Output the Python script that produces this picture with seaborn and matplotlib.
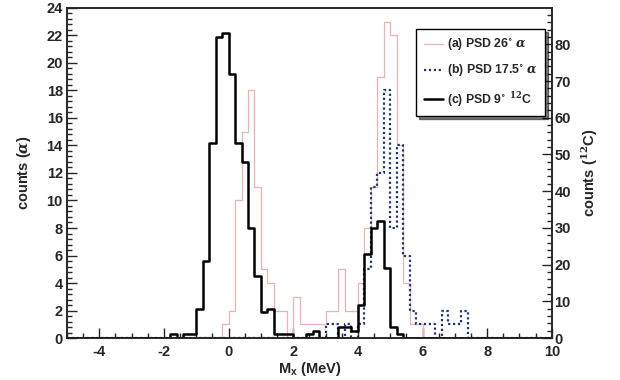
import numpy as np
import pandas as pd
import matplotlib
matplotlib.use("Agg")
import matplotlib.pyplot as plt
from matplotlib.lines import Line2D
from matplotlib.ticker import MultipleLocator
import seaborn as sns

# histogram binning (MeV)
bin_width = 0.2
x_min, x_max = -5.0, 10.0

# (a) PSD 26 deg alpha - counts per bin, first bin starts at a_start
a_start = -0.2
a_counts = [1, 2, 10, 15, 18, 11, 5, 4, 2, 2, 0, 3, 1, 1, 1, 1, 2, 2, 5, 2,
            2, 4, 8, 11, 19, 23, 22, 14, 4, 1, 1]

# (b) PSD 17.5 deg alpha
b_start = 3.0
b_counts = [1, 1, 0, 1, 0, 1, 5, 11, 12, 18, 8, 14, 6, 2, 1, 1, 1, 0, 2, 1,
            1, 2]

# (c) PSD 9 deg 12C (right axis)
c_start = -1.8
c_counts = [1, 0, 1, 1, 8, 21, 53, 82, 83, 72, 53, 48, 30, 17, 7, 8, 1, 1, 1,
            0, 0, 1, 2, 0, 0, 0, 3, 3, 2, 9, 23, 30, 32, 19, 3, 1]

labels = ["(a) PSD 26$^{\\circ}$ $\\alpha$",
          "(b) PSD 17.5$^{\\circ}$ $\\alpha$",
          "(c) PSD 9$^{\\circ}$ $^{12}$C"]

n_bins = int(round((x_max - x_min) / bin_width))
centers = x_min + bin_width * (np.arange(n_bins) + 0.5)


def full(start, counts):
    w = np.zeros(n_bins)
    i0 = int(round((start - x_min) / bin_width))
    w[i0:i0 + len(counts)] = counts
    return pd.DataFrame({"x": centers, "w": w})


sns.set_style("ticks")
plt.rcParams['font.family'] = ['Liberation Sans', 'DejaVu Sans']
plt.rcParams['font.weight'] = 'bold'
plt.rcParams['axes.unicode_minus'] = False
plt.rcParams['mathtext.fontset'] = 'dejavuserif'

fig = plt.figure(figsize=(6.2, 3.8), dpi=100)
ax = fig.add_axes([0.108, 0.1105, 0.782, 0.8685])
ax2 = ax.twinx()

col_a = "#ebb3b0"
col_b = "#1c3470"
hist_kw = dict(x="x", weights="w", binwidth=bin_width,
               binrange=(x_min, x_max), element="step", fill=False)

sns.histplot(data=full(a_start, a_counts), color=col_a, linewidth=0.9,
             ax=ax, **hist_kw)
sns.histplot(data=full(b_start, b_counts), color=col_b, linewidth=1.6,
             linestyle=(0, (1, 1.2)), ax=ax, **hist_kw)
sns.histplot(data=full(c_start, c_counts), color="black", linewidth=1.8,
             ax=ax2, **hist_kw)

ax.set_xlim(x_min, x_max)
ax.set_ylim(0, 24)
ax2.set_ylim(0, 89.9)

ax.xaxis.set_major_locator(MultipleLocator(2))
ax.xaxis.set_minor_locator(MultipleLocator(0.5))
ax.yaxis.set_major_locator(MultipleLocator(2))
ax.yaxis.set_minor_locator(MultipleLocator(0.4))
ax2.yaxis.set_major_locator(MultipleLocator(10))
ax2.yaxis.set_minor_locator(MultipleLocator(2))

ax.tick_params(which="both", direction="in", top=False, right=False,
               labelsize=10.5, width=1)
ax.tick_params(which="major", length=7)
ax.tick_params(which="minor", length=3.5)
ax.tick_params(axis="y", pad=3)
ax.tick_params(axis="x", pad=5)
ax2.tick_params(which="both", direction="in", labelsize=10.5, width=1, pad=2)
ax2.tick_params(which="major", length=7)
ax2.tick_params(which="minor", length=3.5)

for a in (ax, ax2):
    for s in a.spines.values():
        s.set_visible(True)
        s.set_linewidth(1.1)
        s.set_color("#222222")

ax.set_xlabel("M$_{\\mathregular{x}}$ (MeV)", fontsize=10.5, fontweight="bold",
              labelpad=1)
ax.set_ylabel("counts ($\\alpha$)", fontsize=10.5, fontweight="bold",
              labelpad=10)
ax2.set_ylabel("counts ($^{12}$C)", fontsize=10.5, fontweight="bold",
               labelpad=6)

handles = [Line2D([], [], color=col_a, lw=0.9),
           Line2D([], [], color=col_b, lw=1.6, linestyle=(0, (1, 1.2))),
           Line2D([], [], color="black", lw=1.8)]
leg = ax2.legend(handles, labels, loc="upper right",
                 bbox_to_anchor=(0.986, 0.935), borderaxespad=0,
                 frameon=True, fancybox=False, shadow={"color": "black"},
                 prop={"size": 8.8, "weight": "bold"}, handlelength=1.6,
                 handletextpad=0.3, labelspacing=0.85, borderpad=0.6)
leg.get_frame().set_edgecolor("black")
leg.get_frame().set_linewidth(1.0)

fig.savefig("out.png", dpi=100)
